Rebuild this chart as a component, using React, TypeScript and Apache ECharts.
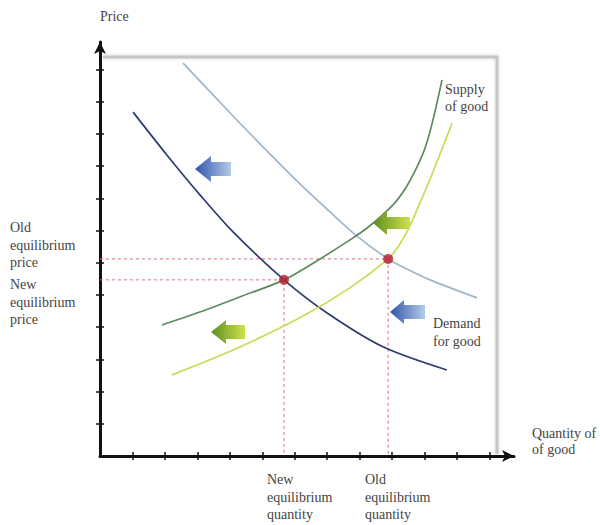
import React, { useEffect, useRef } from "react";
import * as echarts from "echarts";

// Curves (x: quantity ticks, y: price ticks)
const oldDemand: [number, number][] = [
  [2.56, 12.2], [4.1, 10.56], [5.15, 9.47], [6.16, 8.45], [7.09, 7.58],
  [7.92, 6.83], [8.88, 6.12], [9.55, 5.76], [10.26, 5.43], [11.62, 4.91],
];
const newDemand: [number, number][] = [
  [1.02, 10.68], [2.06, 9.35], [3.08, 8.11], [4.1, 6.96], [5.67, 5.47],
  [7.0, 4.44], [8.72, 3.39], [10.69, 2.67],
];
const newSupply: [number, number][] = [
  [1.91, 4.07], [3.08, 4.47], [4.31, 4.94], [5.67, 5.47], [6.78, 6.12],
  [7.61, 6.65], [8.23, 7.08], [9.03, 7.8], [9.4, 8.29], [9.77, 8.98],
  [10.02, 9.57], [10.26, 10.43], [10.54, 11.68],
];
const oldSupply: [number, number][] = [
  [2.22, 2.52], [4.1, 3.29], [6.16, 4.29], [7.7, 5.22], [8.88, 6.12],
  [9.18, 6.49], [9.49, 7.02], [9.86, 7.86], [10.26, 8.82], [10.85, 10.34],
];
const oldEquilibrium: [number, number] = [8.88, 6.12];
const newEquilibrium: [number, number] = [5.67, 5.47];
const tickValues = [1, 2, 3, 4, 5, 6, 7, 8, 9, 10, 11, 12];

const FONT = '14px "Liberation Serif", "DejaVu Serif", serif';
const TXT = "#444";

function arrow(tx: number, ty: number, hx: number, ex: number, hh: number, sh: number, dark: string, light: string) {
  return {
    type: "polygon",
    shape: {
      points: [
        [tx, ty], [hx, ty - hh], [hx, ty - sh], [ex, ty - sh],
        [ex, ty + sh], [hx, ty + sh], [hx, ty + hh],
      ],
    },
    style: {
      fill: {
        type: "linear", x: 0, y: 0, x2: 1, y2: 0,
        colorStops: [{ offset: 0, color: dark }, { offset: 1, color: light }],
      },
    },
    z: 10,
  };
}

function label(x: number, y: number, text: string, lh: number) {
  return {
    type: "text",
    x, y,
    style: { text, font: FONT, fill: TXT, lineHeight: lh, textVerticalAlign: "top" },
    z: 10,
  };
}

export default function App() {
  const ref = useRef<HTMLDivElement>(null);
  useEffect(() => {
    if (!ref.current) return;
    const chart = echarts.init(ref.current, null, { renderer: "svg" });
    const xMax = 414 / 32.45;
    const yMax = 414 / 32.2;
    const axisLine = {
      show: true,
      lineStyle: { color: "#111", width: 3 },
      symbol: ["none", "arrow"],
      symbolSize: [9, 12],
    };
    const curve = (data: [number, number][], color: string) => ({
      type: "line",
      data,
      smooth: 0.3,
      symbol: "none",
      lineStyle: { color, width: 1.7 },
      z: 3,
    });
    const dashed = (data: [number, number][]) => ({
      type: "line",
      data,
      symbol: "none",
      lineStyle: { color: "#e0707c", width: 1, type: [3, 3] },
      z: 2,
    });
    chart.setOption({
      animation: false,
      backgroundColor: "#fff",
      grid: { left: 100, top: 42, width: 414, height: 414 },
      xAxis: [
        {
          type: "value", min: 0, max: xMax, interval: 1, position: "bottom",
          axisLine,
          axisTick: { show: true, length: 4, lineStyle: { color: "#111", width: 1.5 }, customValues: tickValues },
          axisLabel: { show: false },
          splitLine: { show: false },
        },
        {
          type: "value", min: 0, max: xMax, interval: 1, position: "bottom",
          axisLine: { show: false },
          axisTick: { show: true, inside: true, length: 4, lineStyle: { color: "#111", width: 1.5 }, customValues: tickValues },
          axisLabel: { show: false },
          splitLine: { show: false },
        },
      ],
      yAxis: [
        {
          type: "value", min: 0, max: yMax, interval: 1, position: "left",
          axisLine,
          axisTick: { show: true, length: 4, lineStyle: { color: "#111", width: 1.5 }, customValues: tickValues },
          axisLabel: { show: false },
          splitLine: { show: false },
        },
        {
          type: "value", min: 0, max: yMax, interval: 1, position: "left",
          axisLine: { show: false },
          axisTick: { show: true, inside: true, length: 4, lineStyle: { color: "#111", width: 1.5 }, customValues: tickValues },
          axisLabel: { show: false },
          splitLine: { show: false },
        },
      ],
      graphic: [
        {
          type: "polyline",
          shape: { points: [[103, 57], [497, 57], [497, 454]] },
          style: { stroke: "#c6c6c6", lineWidth: 3, fill: null, shadowBlur: 3, shadowColor: "rgba(0,0,0,0.2)" },
          z: -1,
        },
        arrow(195, 169, 211, 231, 13, 7, "#2f55a8", "#b4cbe8"),
        arrow(390, 312, 404, 425, 12, 7, "#2f55a8", "#b4cbe8"),
        arrow(373, 223, 387, 410, 12, 6, "#5c8f22", "#cfe24a"),
        arrow(211, 332, 226, 245, 12, 7, "#5c8f22", "#cfe24a"),
        label(100, 8, "Price", 17),
        label(10, 219, "Old\nequilibrium\nprice", 17.5),
        label(10, 276, "New\nequilibrium\nprice", 17.5),
        label(267, 471, "New\nequilibrium\nquantity", 17.5),
        label(365, 471, "Old\nequilibrium\nquantity", 17.5),
        label(532, 425, "Quantity of\nof good", 16),
        label(445, 81, "Supply\nof good", 17),
        label(433, 314, "Demand\nfor good", 18),
      ],
      series: [
        dashed([[0, oldEquilibrium[1]], oldEquilibrium, [oldEquilibrium[0], 0]]),
        dashed([[0, newEquilibrium[1]], newEquilibrium, [newEquilibrium[0], 0]]),
        curve(oldDemand, "#9fb6ca"),
        curve(newDemand, "#2d3b6e"),
        curve(newSupply, "#5d8a5f"),
        curve(oldSupply, "#cbd955"),
        {
          type: "scatter",
          data: [oldEquilibrium, newEquilibrium],
          symbolSize: 10,
          itemStyle: { color: "#b3192d" },
          z: 5,
        },
      ],
    });
    return () => chart.dispose();
  }, []);
  return (
    <div
      ref={ref}
      style={{ position: "fixed", left: 0, top: 0, width: 600, height: 525, background: "#fff" }}
    />
  );
}
